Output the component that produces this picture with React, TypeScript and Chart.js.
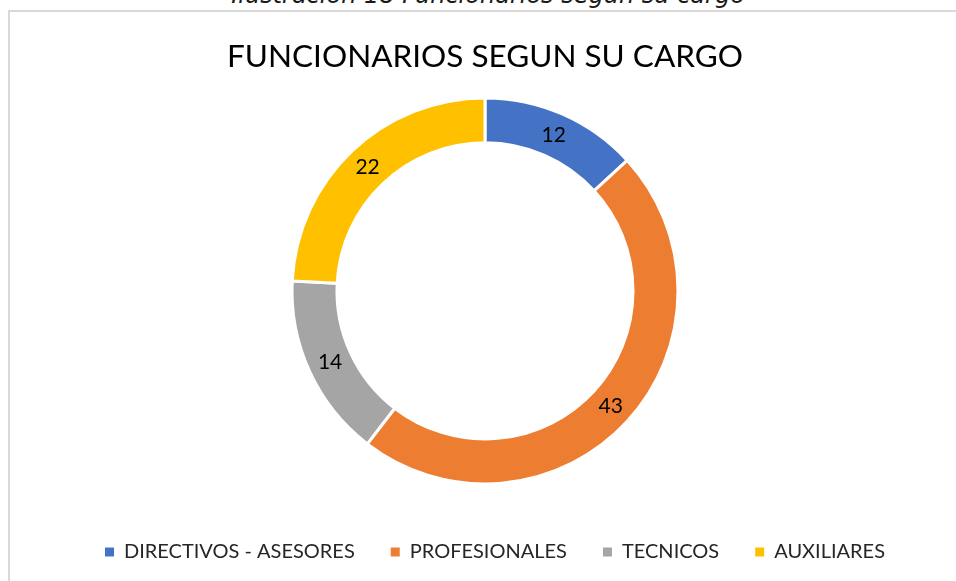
import React, { useEffect, useRef } from "react";
import { Chart, registerables } from "chart.js";

Chart.register(...registerables);

const captionText = "Ilustración 18 Funcionarios según su cargo";
const chartTitle = "FUNCIONARIOS SEGUN SU CARGO";
const categories = ["DIRECTIVOS - ASESORES", "PROFESIONALES", "TECNICOS", "AUXILIARES"];
const values = [12, 43, 14, 22];
const sliceColors = ["#4472C4", "#ED7D31", "#A5A5A5", "#FFC000"];

const LEGEND_SHIFT_X = 10;

const legendShiftPlugin = {
  id: "legendShift",
  afterLayout(chart: any) {
    if (chart.legend) {
      chart.legend.left += LEGEND_SHIFT_X;
      chart.legend.right += LEGEND_SHIFT_X;
    }
  },
};

const dataLabelPlugin = {
  id: "dataLabels",
  afterDatasetsDraw(chart: any) {
    const ctx = chart.ctx;
    const meta = chart.getDatasetMeta(0);
    ctx.save();
    ctx.font = "21px Lato";
    ctx.fillStyle = "#000000";
    ctx.textAlign = "center";
    ctx.textBaseline = "middle";
    meta.data.forEach((arc: any, i: number) => {
      const p = arc.tooltipPosition();
      ctx.fillText(String(values[i]), p.x, p.y);
    });
    ctx.restore();
  },
};

export default function App() {
  const ref = useRef<HTMLCanvasElement>(null);

  useEffect(() => {
    if (!ref.current) return;
    const defaultGen = (Chart as any).overrides.doughnut.plugins.legend.labels.generateLabels;
    const chart = new Chart(ref.current, {
      type: "doughnut",
      data: {
        labels: categories,
        datasets: [
          {
            data: values,
            backgroundColor: sliceColors,
            borderColor: "#ffffff",
            borderWidth: 3,
            hoverOffset: 0,
          },
        ],
      },
      options: {
        responsive: false,
        animation: false,
        radius: 193,
        cutout: "76.7%",
        layout: { padding: 0 },
        plugins: {
          title: {
            display: true,
            text: chartTitle,
            color: "#000000",
            font: { family: "Lato", size: 31.5, weight: "normal", lineHeight: 1.2 },
            padding: { top: 26, bottom: 0 },
          },
          legend: {
            display: true,
            position: "bottom",
            labels: {
              boxWidth: 9,
              boxHeight: 9,
              padding: 36,
              color: "#262626",
              font: { family: "Lato", size: 20 },
              generateLabels: (c: any) =>
                defaultGen(c).map((l: any) => ({ ...l, lineWidth: 0, strokeStyle: l.fillStyle })),
            },
          },
          tooltip: { enabled: false },
        },
      },
      plugins: [dataLabelPlugin, legendShiftPlugin],
    } as any);
    return () => chart.destroy();
  }, []);

  return (
    <div style={{ position: "fixed", inset: 0, overflow: "hidden", background: "#fff" }}>
      <div
        style={{
          position: "absolute",
          top: -17,
          left: 0,
          width: 976,
          textAlign: "center",
          fontFamily: "'DejaVu Sans'",
          fontStyle: "italic",
          fontWeight: 200,
          fontSize: 24,
          lineHeight: "24px",
          color: "#1a1a1a",
          whiteSpace: "nowrap",
        }}
      >
        {captionText}
      </div>
      <div
        style={{
          position: "absolute",
          left: 8,
          top: 10,
          width: 980,
          height: 640,
          border: "2px solid #d9d9d9",
          boxSizing: "border-box",
        }}
      />
      <canvas
        ref={ref}
        width={950}
        height={560}
        style={{ position: "absolute", left: 10, top: 12, display: "block" }}
      />
    </div>
  );
}
